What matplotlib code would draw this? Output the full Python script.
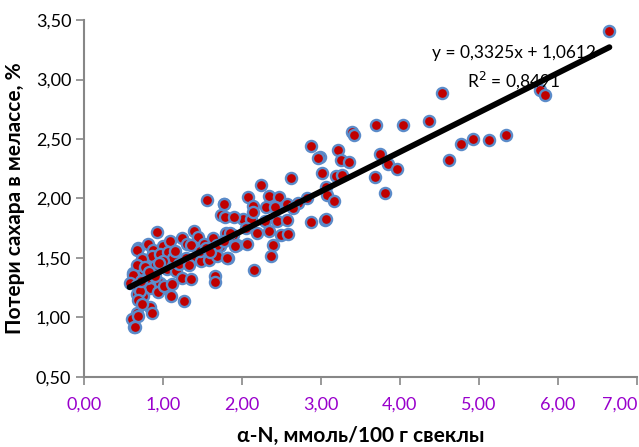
import matplotlib
matplotlib.use('Agg')
import matplotlib.pyplot as plt
import numpy as np

plt.rcParams['font.family'] = ['Lato', 'DejaVu Sans']

# alpha-N (mmol/100 g beet) vs sugar losses in molasses (%)
alpha_n = [
    6.65, 5.77, 5.84, 4.53, 4.77, 4.92, 5.13, 5.34, 4.62,
    3.70, 4.04, 4.37, 3.39, 3.42, 3.22, 3.25, 3.36, 3.75, 3.85, 3.96, 3.68, 3.81,
    2.99, 3.02, 3.19, 3.27, 3.06, 3.08, 3.16, 3.05,
    2.88, 2.97, 2.62, 2.24, 1.77, 1.74, 1.79, 2.08, 2.14, 2.35, 2.47,
    2.31, 2.42, 2.57, 2.71, 2.83, 2.02, 2.12, 2.14, 2.29, 2.44, 2.57, 2.88, 3.06,
    2.19, 2.35, 2.50, 2.59, 1.80, 1.89, 1.94, 2.06, 2.39, 2.37, 1.83, 2.16, 1.72,
    1.56, 1.78, 1.90, 0.93, 1.24, 1.39, 1.45, 1.31, 1.36,
    1.52, 1.64, 1.68, 1.78, 1.85, 0.69, 0.81, 0.88, 1.00, 1.09,
    0.74, 0.86, 0.97, 1.07, 1.13, 1.29, 1.41, 1.49, 1.59, 1.68, 1.81, 1.92,
    0.62, 0.75, 0.90, 1.05, 1.17, 1.24, 1.36, 1.66, 1.66,
    0.71, 0.84, 0.96, 1.07, 1.11, 0.67, 0.75, 0.94, 1.27, 0.84,
    0.68, 0.74, 0.67, 0.62, 0.58, 0.67, 0.71, 0.69, 0.67, 0.61, 0.64,
    0.65, 0.69, 0.86, 0.74, 0.80, 1.00, 1.20, 1.15, 0.90, 0.78, 1.02, 1.33,
    1.47, 1.55, 0.95, 0.82, 1.12, 0.72, 2.05, 2.65, 1.60,
]
sugar_loss = [
    3.41, 2.91, 2.87, 2.89, 2.46, 2.50, 2.49, 2.53, 2.32,
    2.62, 2.62, 2.65, 2.56, 2.53, 2.41, 2.32, 2.31, 2.37, 2.29, 2.25, 2.18, 2.05,
    2.35, 2.21, 2.19, 2.20, 2.10, 2.03, 1.98, 1.82,
    2.44, 2.34, 2.17, 2.11, 1.95, 1.86, 1.84, 2.01, 1.94, 2.02, 2.01,
    1.93, 1.93, 1.95, 1.96, 2.00, 1.83, 1.83, 1.89, 1.81, 1.81, 1.82, 1.80, 1.83,
    1.71, 1.73, 1.69, 1.70, 1.71, 1.69, 1.61, 1.62, 1.61, 1.52, 1.50, 1.40, 1.60,
    1.99, 1.95, 1.84, 1.72, 1.67, 1.73, 1.68, 1.62, 1.61,
    1.62, 1.67, 1.61, 1.64, 1.71, 1.58, 1.62, 1.57, 1.60, 1.64,
    1.49, 1.52, 1.53, 1.55, 1.50, 1.50, 1.50, 1.47, 1.48, 1.52, 1.50, 1.60,
    1.37, 1.40, 1.43, 1.41, 1.39, 1.33, 1.32, 1.35, 1.30,
    1.27, 1.25, 1.29, 1.24, 1.18, 1.20, 1.18, 1.21, 1.14, 1.09,
    1.57, 1.49, 1.44, 1.36, 1.29, 1.27, 1.22, 1.15, 1.04, 0.99, 0.92,
    0.92, 1.01, 1.04, 1.11, 1.33, 1.47, 1.45, 1.56, 1.35, 1.42, 1.26, 1.44,
    1.56, 1.58, 1.46, 1.38, 1.28, 1.31, 1.75, 1.92, 1.55,
]
fit_slope = 0.3325
fit_intercept = 1.0612
fit_r2 = 0.8491

x_ticks = np.arange(0, 7.01, 1.0)
y_ticks = np.arange(0.5, 3.51, 0.5)

fig = plt.figure(figsize=(6.39, 4.47), dpi=100)
ax = fig.add_axes([0.131, 0.157, 0.866, 0.798])

ax.scatter(alpha_n, sugar_loss, s=64, c='#C00000', edgecolors='#5B8BC9',
           linewidths=1.7, zorder=2)

xf = np.array([min(alpha_n), max(alpha_n)])
ax.plot(xf, fit_slope * xf + fit_intercept, color='black', lw=4.2,
        solid_capstyle='round', zorder=3)

ax.text(5.44, 3.22, 'y = 0,3325x + 1,0612', ha='center', va='center',
        fontsize=12.5, zorder=4)
ax.text(5.44, 2.995, 'R$^2$ = 0,8491', ha='center', va='center',
        fontsize=12.5, zorder=4)

ax.set_xlim(0, 7)
ax.set_ylim(0.5, 3.5)
ax.set_xticks(x_ticks)
ax.set_yticks(y_ticks)
ax.set_xticklabels([f'{v:.2f}'.replace('.', ',') for v in x_ticks],
                   color='#9900CC')
ax.set_yticklabels([f'{v:.2f}'.replace('.', ',') for v in y_ticks])
# last x label is pushed inside the figure, as in the original
ax.get_xticklabels()[-1].set_horizontalalignment('right')

for side in ['top', 'right']:
    ax.spines[side].set_visible(False)
for side in ['left', 'bottom']:
    ax.spines[side].set_color('#878787')
    ax.spines[side].set_linewidth(1.5)
ax.tick_params(axis='both', colors='#878787', length=6, width=1.2,
               labelsize=13)
ax.tick_params(axis='x', pad=8, labelcolor='#9900CC')
ax.tick_params(axis='y', pad=3, labelcolor='black')

ax.set_xlabel('α-N, ммоль/100 г свеклы', fontsize=15, fontweight='bold',
              labelpad=10)
ax.set_ylabel('Потери сахара в мелассе, %', fontsize=15, fontweight='bold',
              labelpad=8)

fig.savefig('out.png', dpi=100)
